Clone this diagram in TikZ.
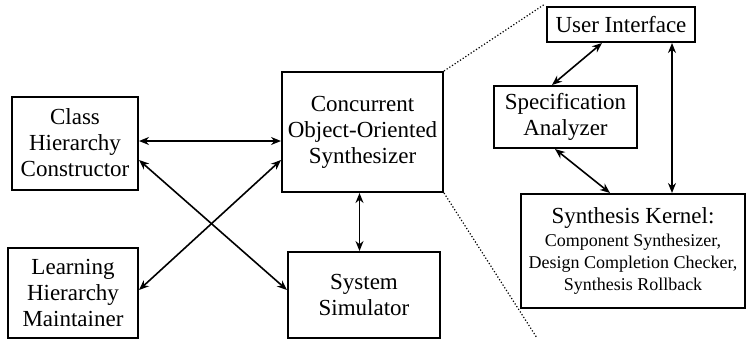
\documentclass[tikz,border=0pt]{standalone}
\usepackage{fontspec}
\setmainfont{Liberation Serif}
\usetikzlibrary{arrows.meta,calc}
\begin{document}
\begin{tikzpicture}[x=1pt,y=-1pt,
  box/.style={draw,line width=2pt,inner sep=0pt,align=center,
    font=\fontsize{23}{26}\selectfont},
  link/.style={line width=1.6pt,{Stealth[length=10pt,width=8pt]}-{Stealth[length=10pt,width=8pt]}},
  zoomline/.style={dotted,line width=1.2pt}]
\useasboundingbox (0,0) rectangle (747,341);
\node[box,minimum width=126pt,minimum height=93pt] (cls) at (75,143) {Class\\Hierarchy\\Constructor};
\node[box,minimum width=130pt,minimum height=90pt] (lrn) at (73,293) {Learning\\Hierarchy\\Maintainer};
\node[box,minimum width=161pt,minimum height=120pt] (conc) at (362.5,132) {Concurrent\\Object-Oriented\\Synthesizer};
\node[box,minimum width=152pt,minimum height=86pt] (sim) at (364,295) {System\\Simulator};
\node[box,minimum width=148pt,minimum height=35pt] (ui) at (621,24.5) {User Interface};
\node[box,minimum width=143pt,minimum height=62pt] (spec) at (565.5,117) {Specification\\Analyzer};
\node[box,minimum width=224pt,minimum height=114pt] (kern) at (633,251)
  {Synthesis Kernel:\\[-3pt]{\fontsize{18}{20}\selectfont Component Synthesizer,}\\[-4pt]
   {\fontsize{18}{20}\selectfont Design Completion Checker,}\\[-4pt]
   {\fontsize{18}{20}\selectfont Synthesis Rollback}};
\coordinate (zt) at (545,4);
\coordinate (zb) at (537,338);
% connectors
\draw[link] ([yshift=2pt]cls.east) -- ([yshift=2pt]cls.east -| conc.west);
\draw[link] ([yshift=-17pt]cls.east) -- ([yshift=5pt]sim.west);
\draw[link] ([yshift=3pt]lrn.east) -- ([yshift=-28pt]conc.west);
\draw[link] ([xshift=-3pt]conc.south) -- ([xshift=-3pt]conc.south |- sim.north);
\draw[link] ([xshift=-19pt]ui.south) -- ([xshift=-13.5pt]spec.north);
\draw[link] ([xshift=-10.5pt]spec.south) -- ([xshift=-23pt]kern.north);
\draw[link] ([xshift=51pt]ui.south) -- ([xshift=51pt]ui.south |- kern.north);
% zoom lines
\draw[zoomline] (conc.north east) -- (zt);
\draw[zoomline] (conc.south east) -- (zb);
\end{tikzpicture}
\end{document}
